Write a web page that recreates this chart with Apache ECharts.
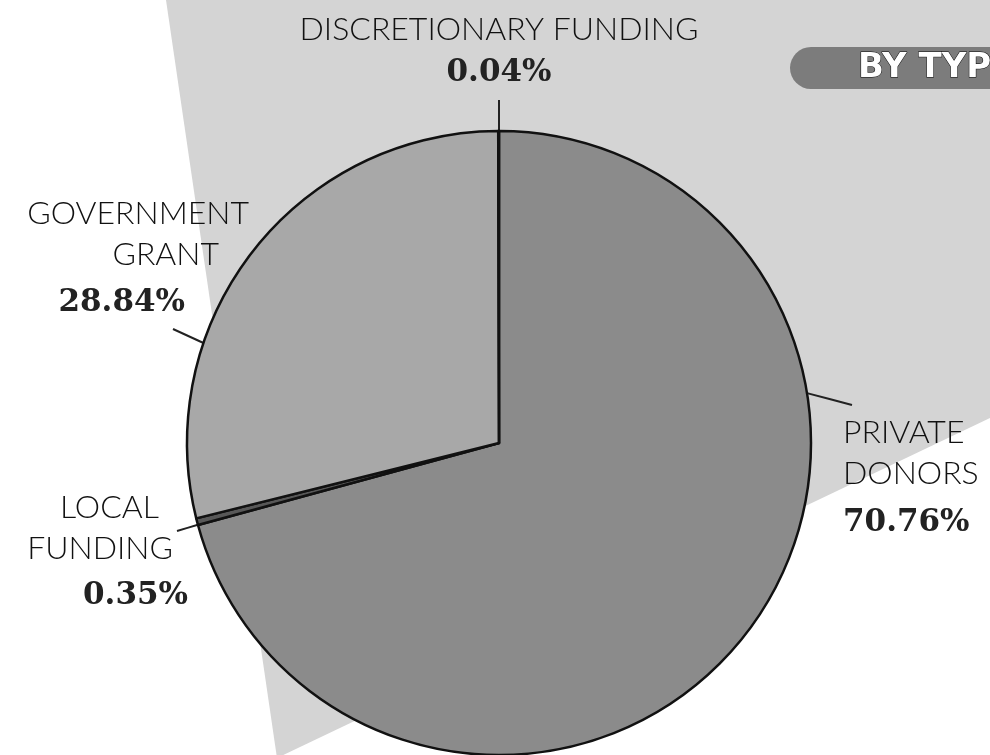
<!DOCTYPE html>
<html><head><meta charset="utf-8">
<script src="https://cdn.jsdelivr.net/npm/echarts@6/dist/echarts.min.js"></script>
<style>html,body{margin:0;padding:0;background:#fff}#c{width:990px;height:755px}</style>
</head><body><div id="c"></div>
<script>
// ---- data ----
const categories = ['PRIVATE\nDONORS', 'LOCAL\nFUNDING', 'GOVERNMENT\nGRANT', 'DISCRETIONARY FUNDING'];
const shares = [70.76, 0.35, 28.84, 0.04];
const badgeText = 'BY TYPE';

// ---- style / layout ----
const sliceColors = ['#8b8b8b', '#585858', '#a8a8a8', '#a8a8a8'];
const CX = 499, CY = 443, R = 312;
const labelPos = [
  {x: 843, y: 412.5, align: 'left'},
  {x: 188, y: 487.5, align: 'right'},
  {x: 249, y: 193, align: 'right'},
  {x: 499, y: 8.5, align: 'center'}
];
const lineHeights = [[41, 41, 57], [41, 41, 53], [41, 41, 56], [43, 43]];
const rightPads = [[0, 0, 0], [29, 15, 0], [0, 30, 64], [0, 0]];
const leaderAngles = [80.8, 254.8, 288.7, 0];
const leaderEnds = [[852, 405], [177, 531], [173, 329], [499, 100]];

const nameFont = {fontFamily: 'Lato', fontSize: 32, color: '#111111', fontWeight: 300};
const pctFont = {fontFamily: 'DejaVu Serif', fontSize: 31, color: '#222222', fontWeight: 'bold'};

const data = categories.map((name, i) => {
  const lines = name.split('\n');
  const rich = {};
  lines.forEach((ln, k) => {
    rich['l' + k] = Object.assign({}, nameFont, {
      lineHeight: lineHeights[i][k], align: labelPos[i].align,
      padding: [0, rightPads[i][k], 0, 0]
    });
  });
  rich.p = Object.assign({}, pctFont, {
    lineHeight: lineHeights[i][lines.length], align: labelPos[i].align,
    padding: [0, rightPads[i][lines.length], 0, 0]
  });
  return {
    name: name,
    value: shares[i],
    itemStyle: {color: sliceColors[i]},
    label: {
      formatter: () => lines.map((ln, k) => '{l' + k + '|' + ln + '}').join('\n') + '\n{p|' + shares[i].toFixed(2) + '%}',
      rich: rich
    }
  };
});

const chart = echarts.init(document.getElementById('c'), null, {renderer: 'canvas'});
chart.setOption({
  animation: false,
  backgroundColor: '#ffffff',
  graphic: [
    {
      type: 'polygon', z: -10, silent: true,
      shape: {points: [[166, 0], [990, 0], [990, 418], [277, 758]]},
      style: {fill: '#d4d4d4'}
    },
    {
      type: 'rect', z: 100, silent: true,
      shape: {x: 790, y: 47, width: 240, height: 42, r: 21},
      style: {fill: '#7c7c7c'}
    },
    {
      type: 'text', z: 101, silent: true, x: 858, y: 68,
      style: {
        text: badgeText, fill: '#ffffff', font: 'bold 34px "DejaVu Sans"',
        textVerticalAlign: 'middle', verticalAlign: 'middle',
        stroke: '#000', lineWidth: 1,
        shadowColor: '#000', shadowOffsetX: -2, shadowOffsetY: 2, shadowBlur: 0
      }
    }
  ],
  series: [{
    type: 'pie',
    center: [CX, CY],
    radius: R,
    startAngle: 90,
    clockwise: true,
    avoidLabelOverlap: false,
    itemStyle: {borderColor: '#111', borderWidth: 2.5},
    emphasis: {disabled: true},
    label: {show: true, position: 'outside'},
    labelLine: {show: true, lineStyle: {color: '#222', width: 2}},
    labelLayout: function (params) {
      const i = params.dataIndex;
      const a = leaderAngles[i] * Math.PI / 180;
      const sx = CX + R * Math.sin(a), sy = CY - R * Math.cos(a);
      const ex = leaderEnds[i][0], ey = leaderEnds[i][1];
      return {
        x: labelPos[i].x, y: labelPos[i].y,
        align: labelPos[i].align, verticalAlign: 'top',
        labelLinePoints: [[sx, sy], [(sx + ex) / 2, (sy + ey) / 2], [ex, ey]]
      };
    },
    data: data
  }]
});
</script>
</body></html>
